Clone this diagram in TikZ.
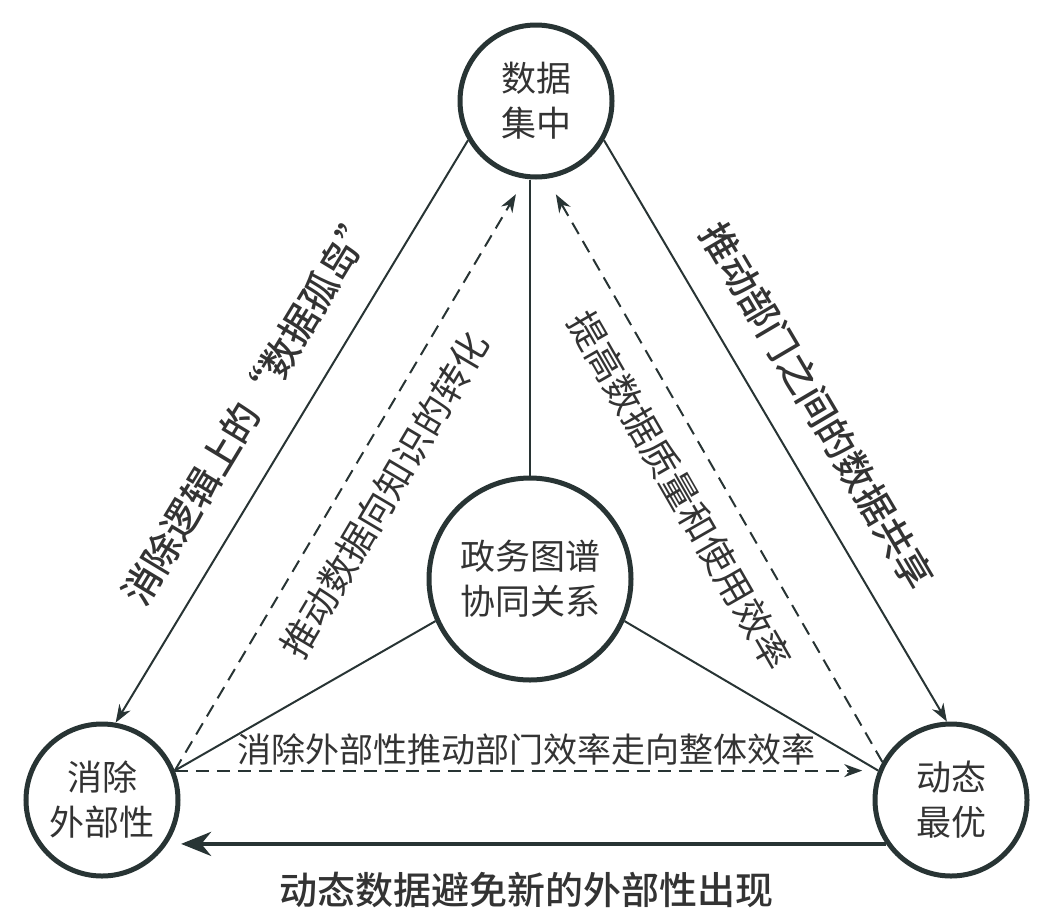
\documentclass[tikz,border=0pt]{standalone}
\usepackage{fontspec}
\IfFontExistsTF{Noto Sans CJK SC Medium}
  {\setmainfont{Noto Sans CJK SC}[CharacterWidth=Full,BoldFont={Noto Sans CJK SC Medium}]}
  {\setmainfont{Noto Sans CJK SC}[CharacterWidth=Full]}
\usepackage{xcolor}
\definecolor{gink}{HTML}{283434}
\definecolor{gtext}{HTML}{333333}
\usepackage{tikz}
\usetikzlibrary{arrows.meta,positioning,calc}

\begin{document}
\begin{tikzpicture}[
  x=0.5pt,y=-0.5pt,
  font=\fontsize{17.5}{22.5}\selectfont,
  ring/.style={circle,draw=gink,line width=2.5pt,minimum size=76pt,inner sep=0pt,align=center,text=gtext,fill=white},
  bigring/.style={ring,minimum size=101pt},
  link/.style={draw=gink,line width=1pt},
  arr/.style={link,-{Stealth[length=9pt,width=6.5pt]}},
  darr/.style={arr,dash pattern=on 6.5pt off 4pt},
  bigarr/.style={draw=gink,line width=2.25pt,-{Stealth[length=15pt,width=12pt]}},
  lbl/.style={text=gtext,inner sep=0pt,font=\fontsize{18.5}{18.5}\selectfont},
  blbl/.style={lbl,font=\bfseries\fontsize{19}{19}\selectfont}
]
\useasboundingbox (0,0) rectangle (1054,916);
\node[ring] (data) at (536,101) {数据\\集中};
\node[ring] (elim) at (102,800) {消除\\外部性};
\node[ring] (opt) at (951,800) {动态\\最优};
\node[bigring] (core) at (530,579) {政务图谱\\协同关系};
\draw[link] (core.north) -- (core.north |- data.south);
\draw[link] (core.204) -- (elim.22);
\draw[link] (core.336) -- (opt.158);
\draw[arr] (data.210) -- node[blbl,midway,sloped,above=15pt] {消除逻辑上的“数据孤岛”} (elim.80);
\draw[arr] (data.330) -- node[blbl,midway,sloped,above=15pt] {推动部门之间的数据共享} (opt.93);
\draw[darr,shorten >=9pt] (elim.22) -- node[lbl,midway,sloped,below=11pt] {推动数据向知识的转化} (data.262);
\draw[darr,shorten >=9pt] (opt.151) -- node[lbl,midway,sloped,below=11pt] {提高数据质量和使用效率} (data.278);
\draw[darr,shorten >=8pt] (elim.22) -- node[lbl,midway,above=2pt,font=\fontsize{17}{17}\selectfont] {消除外部性推动部门效率走向整体效率} (opt.158);
\draw[bigarr,shorten >=7pt] (opt.214) -- node[blbl,midway,below=13pt] {动态数据避免新的外部性出现} (opt.214 -| elim.326);
\end{tikzpicture}
\end{document}
